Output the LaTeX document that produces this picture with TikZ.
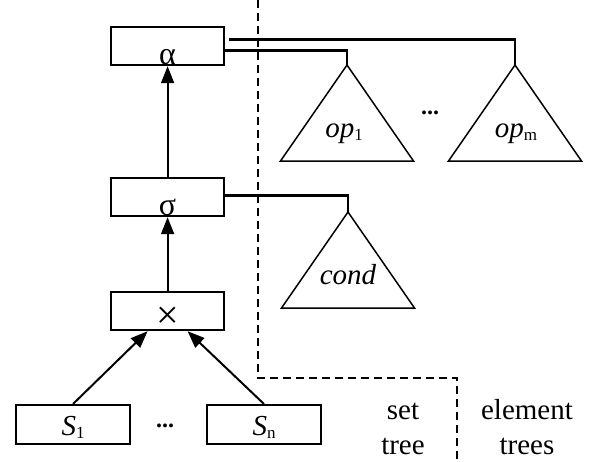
\documentclass[tikz,border=0pt]{standalone}
\usepackage{fontspec}
\setmainfont{Liberation Serif}
\usetikzlibrary{arrows.meta,calc}
% small upright subscript used in the labels
\newcommand{\lowidx}[1]{\raisebox{-0.25ex}{\fontsize{17}{17}\selectfont #1}}
\begin{document}
\begin{tikzpicture}[x=1pt,y=-1pt,
  opbox/.style={draw, line width=2.2pt, minimum width=113pt, minimum height=38pt,
                inner sep=0pt, anchor=north west},
  relbox/.style={draw, line width=2pt, minimum width=114pt, minimum height=39pt,
                 inner sep=0pt, anchor=north west},
  boxtext/.style={anchor=base, inner sep=0pt, font=\fontsize{32}{32}\selectfont},
  lbl/.style={anchor=base, inner sep=0pt, font=\fontsize{29}{29}\selectfont},
  dots/.style={inner sep=0pt, font=\fontsize{24}{24}\selectfont\bfseries},
  arr/.style={line width=2pt, -{Triangle[length=17pt,width=13pt]}},
  link/.style={line width=2.8pt},
  subtree/.style={line width=1.5pt, line join=miter},
  sep/.style={line width=2pt, dash pattern=on 8pt off 5pt},
]
\useasboundingbox (0,0) rectangle (589,461);

% operator boxes of the set tree
\node[opbox] (alpha) at (110,26) {};
\node[opbox] (sigma) at (110,177) {};
\node[opbox] (times) at (110,291) {};
\node[relbox] (s1) at (15,404) {};
\node[relbox] (sn) at (206,404) {};

\node[boxtext] at ($(alpha.south)+(0,-2)$) {α};
\node[boxtext] at ($(sigma.south)+(0,-2)$) {σ};
\node[boxtext, font=\fontsize{40}{40}\selectfont] at ($(times.south)+(0,-3)$) {×};
\node[lbl] at ($(s1.south)+(0,-10)$) {\textit{S}\lowidx{1}};
\node[lbl] at ($(sn.south)+(0,-10)$) {\textit{S}\lowidx{n}};
\node[dots] at (165,426) {...};

% data flow up the set tree
\draw[arr] (sigma.north) -- (alpha.south);
\draw[arr] (times.north) -- (sigma.south);
\draw[arr] (s1.north) -- ($(times.south)+(-20,0)$);
\draw[arr] (sn.north) -- ($(times.south)+(20,0)$);

% element trees
\coordinate (op1) at (347,65);
\coordinate (opm) at (515,65);
\coordinate (cond) at (348,212);
\foreach \t in {op1,opm,cond}
  \draw[subtree] (\t) -- ++(-66.5,96) -- ++(133,0) -- cycle;
\node[lbl] at (344,137) {\textit{op}\lowidx{1}};
\node[lbl] at (516,137) {\textit{op}\lowidx{m}};
\node[lbl] at (348,284) {\textit{cond}};
\node[dots] at (430,113) {...};

% links from the operators to their element trees
\draw[link] ($(alpha.east)+(0,4)$) -| (op1);
\draw[link] ($(alpha.east)+(4,-7)$) -| (opm);
\draw[link] ($(sigma.east)+(0,-2)$) -| (cond);

% boundary between set tree and element trees
\coordinate (d0) at (258,0);
\coordinate (d1) at (258,378);
\coordinate (d2) at (457,378);
\coordinate (d3) at (457,461);
\draw[sep] (d0) -- (d1) -- (d2) -- (d3);

\node[lbl] (set) at (403,419) {set};
\node[lbl] (tree) at (403,454) {tree};
\node[lbl] (element) at (527,419) {element};
\node[lbl] (trees) at (527,454) {trees};
\end{tikzpicture}
\end{document}
